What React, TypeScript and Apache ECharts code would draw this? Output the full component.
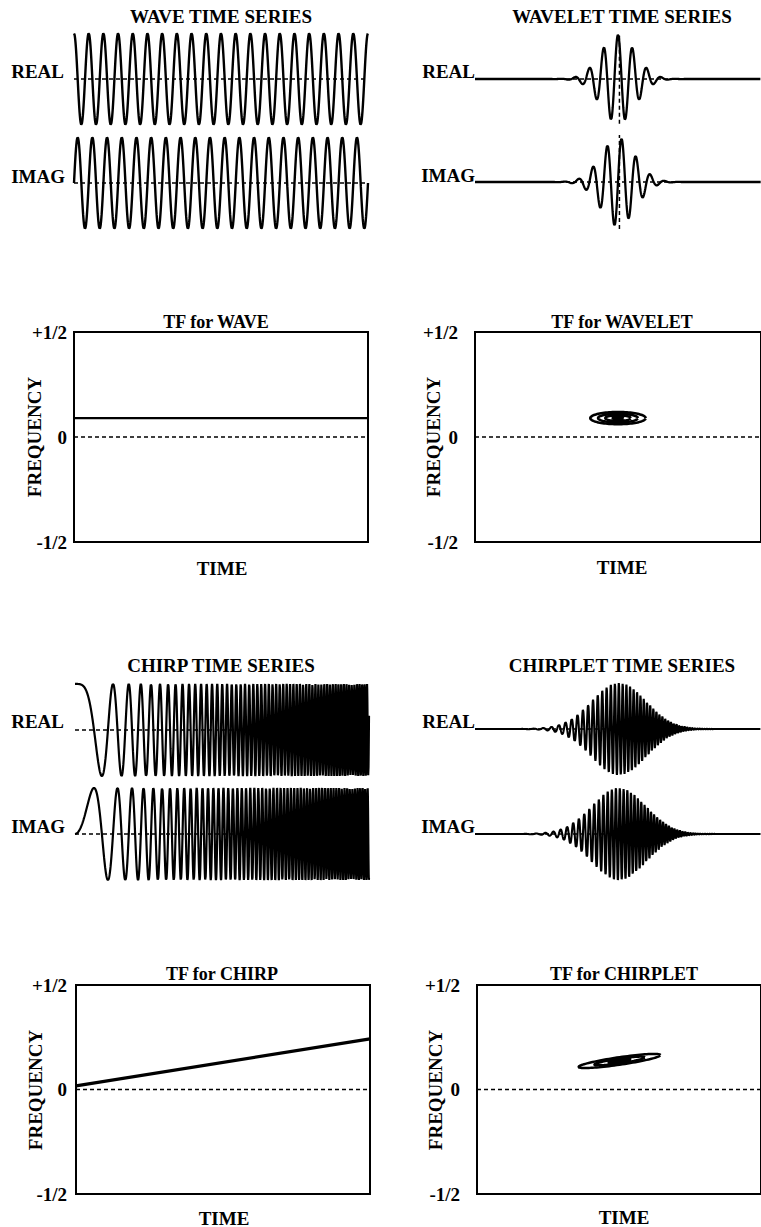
import React, { useEffect, useRef } from "react";
import * as echarts from "echarts";

const FONT = '"Liberation Serif", "Times New Roman", Times, serif';

// ---- signal parameters (time normalised 0..1 across each panel) ----
const waveCycles = [20];
const waveAmp = [0.97];
const waveletCenter = [0.5];
const waveletCycles = [20];
const waveletSigma = [0.06];
const waveletAmp = [0.94];
const waveletMarkerU = [0.505];
const chirpQuadCycles = [59.8];
const chirpAmp = [0.98];
const chirpletCenter = [0.503];
const chirpletSigma = [0.095];
const chirpletFreq = [73.5];
const chirpletRate = [155.6];
const chirpletAmp = [0.98];

// ---- time-frequency plane values ----
const tfWaveFreq = [0.09];
const tfChirpFreqs = [0.017, 0.242];
const tfWaveletEllipse = [0.5, 0.09, 0.097, 0.029]; // cu, cf, half width, half height
const tfWaveletRings = [1, 0.72, 0.46, 0.2];
const tfChirpletEllipse = [0.502, 0.1365, 0.1446, 0.0285, 0.018]; // cu, cf, major du, major df, minor df
const tfChirpletRings = [1, 0.62, 0.28];
const tfTicks = [-0.5, 0, 0.5];
const tfTickLabels = ["-1/2", "0", "+1/2"];

const N = 1800;
function sample(fn: (u: number) => number) {
  const out: number[][] = [];
  for (let i = 0; i <= N; i++) {
    const u = i / N;
    out.push([u, fn(u)]);
  }
  return out;
}
function ellipse(cu: number, cf: number, au: number, af: number, bf: number, s: number) {
  const out: number[][] = [];
  for (let i = 0; i <= 96; i++) {
    const t = (i / 96) * Math.PI * 2;
    out.push([cu + s * au * Math.cos(t), cf + s * af * Math.cos(t) + s * bf * Math.sin(t)]);
  }
  return out;
}

export default function App() {
  const ref = useRef<HTMLDivElement>(null);
  useEffect(() => {
    document.body.style.margin = "0";
    const chart = echarts.init(ref.current!, null, { renderer: "svg" });

    const TS_H = 94;
    const grids = [
      { left: 74, top: 32, width: 294, height: TS_H, tf: false }, // 0 wave real
      { left: 74, top: 136, width: 294, height: TS_H, tf: false }, // 1 wave imag
      { left: 475, top: 32, width: 294, height: TS_H, tf: false }, // 2 wavelet real
      { left: 475, top: 135, width: 294, height: TS_H, tf: false }, // 3 wavelet imag
      { left: 75, top: 683, width: 294, height: TS_H, tf: false }, // 4 chirp real
      { left: 75, top: 787, width: 294, height: TS_H, tf: false }, // 5 chirp imag
      { left: 475, top: 682, width: 294, height: TS_H, tf: false }, // 6 chirplet real
      { left: 475, top: 787, width: 294, height: TS_H, tf: false }, // 7 chirplet imag
      { left: 74, top: 332, width: 294, height: 210, tf: true, margin: 7 }, // 8 TF wave
      { left: 475, top: 332, width: 294, height: 210, tf: true, margin: 17 }, // 9 TF wavelet
      { left: 76, top: 985, width: 294, height: 209, tf: true, margin: 9 }, // 10 TF chirp
      { left: 477, top: 985, width: 294, height: 209, tf: true, margin: 17 }, // 11 TF chirplet
    ];

    const line = (gi: number, data: number[][], width: number, dashed = false, z = 2) => ({
      type: "line",
      xAxisIndex: gi,
      yAxisIndex: gi,
      data,
      showSymbol: false,
      silent: true,
      z,
      lineStyle: { color: "#000", width, type: dashed ? [4, 3] : "solid" },
    });

    const wc = waveCycles[0], wa = waveAmp[0];
    const env = (u: number, c: number, s: number) => Math.exp(-0.5 * ((u - c) / s) ** 2);
    const chirpletPhase = (u: number) => {
      const d = u - chirpletCenter[0];
      return 2 * Math.PI * (chirpletFreq[0] * d + 0.5 * chirpletRate[0] * d * d);
    };

    const series: any[] = [
      line(0, sample((u) => wa * Math.cos(2 * Math.PI * wc * u)), 2.4),
      line(1, sample((u) => wa * Math.sin(2 * Math.PI * wc * u)), 2.4),
      line(2, sample((u) => waveletAmp[0] * env(u, waveletCenter[0], waveletSigma[0]) * Math.cos(2 * Math.PI * waveletCycles[0] * (u - waveletCenter[0]))), 2.3),
      line(3, sample((u) => waveletAmp[0] * env(u, waveletCenter[0], waveletSigma[0]) * Math.sin(2 * Math.PI * waveletCycles[0] * (u - waveletCenter[0]))), 2.3),
      line(4, sample((u) => chirpAmp[0] * Math.cos(2 * Math.PI * chirpQuadCycles[0] * u * u)), 2.2),
      line(5, sample((u) => chirpAmp[0] * Math.sin(2 * Math.PI * chirpQuadCycles[0] * u * u)), 2.2),
      line(6, sample((u) => chirpletAmp[0] * env(u, chirpletCenter[0], chirpletSigma[0]) * Math.cos(chirpletPhase(u))), 2.1),
      line(7, sample((u) => chirpletAmp[0] * env(u, chirpletCenter[0], chirpletSigma[0]) * Math.sin(chirpletPhase(u))), 2.1),
    ];
    // dashed zero baselines in time series
    for (let gi = 0; gi < 8; gi++) series.push(line(gi, [[0, 0], [1, 0]], 1.6, true, 3));
    // wavelet centre markers
    series.push(line(2, [[waveletMarkerU[0], -0.95], [waveletMarkerU[0], 0.95]], 1.5, true, 3));
    series.push(line(3, [[waveletMarkerU[0], -1], [waveletMarkerU[0], 1]], 1.5, true, 3));

    // TF planes
    for (let gi = 8; gi < 12; gi++) series.push(line(gi, [[0, 0], [1, 0]], 1.6, true, 3));
    series.push(line(8, [[0, tfWaveFreq[0]], [1, tfWaveFreq[0]]], 2.2));
    series.push(line(10, [[0, tfChirpFreqs[0]], [1, tfChirpFreqs[1]]], 3.2));
    tfWaveletRings.forEach((s) => {
      const [cu, cf, au, af] = tfWaveletEllipse;
      series.push(line(9, ellipse(cu, cf, au, 0, af, s), 2.6));
    });
    tfChirpletRings.forEach((s) => {
      const [cu, cf, au, af, bf] = tfChirpletEllipse;
      series.push(line(11, ellipse(cu, cf, au, af, bf, s), 2.5));
    });

    const labelStyle = { color: "#000", fontFamily: FONT, fontSize: 19, fontWeight: "bold" };

    const txt = (text: string, x: number, y: number, align = "center", rot = 0, size = 19) => ({
      type: "text",
      x,
      y,
      rotation: rot,
      silent: true,
      style: {
        text,
        fill: "#000",
        font: `bold ${size}px ${FONT}`,
        fontFamily: FONT,
        fontSize: size,
        fontWeight: "bold",
        textAlign: align,
        textVerticalAlign: "middle",
        align,
        verticalAlign: "middle",
      },
    });
    const R90 = Math.PI / 2;
    const graphic = [
      txt("WAVE TIME SERIES", 221, 16),
      txt("WAVELET TIME SERIES", 622, 16),
      txt("REAL", 64, 71, "right"),
      txt("IMAG", 65, 176, "right"),
      txt("REAL", 475, 71, "right"),
      txt("IMAG", 475, 175, "right"),
      txt("TF for WAVE", 216, 322, "center", 0, 18),
      txt("TF for WAVELET", 622, 322, "center", 0, 18),
      txt("FREQUENCY", 34, 437, "center", R90),
      txt("FREQUENCY", 433, 437, "center", R90),
      txt("TIME", 222, 568),
      txt("TIME", 622, 567),
      txt("CHIRP TIME SERIES", 221, 665),
      txt("CHIRPLET TIME SERIES", 622, 665),
      txt("REAL", 64, 721, "right"),
      txt("IMAG", 65, 826, "right"),
      txt("REAL", 475, 721, "right"),
      txt("IMAG", 475, 826, "right"),
      txt("TF for CHIRP", 222, 974, "center", 0, 18),
      txt("TF for CHIRPLET", 624, 974, "center", 0, 18),
      txt("FREQUENCY", 35, 1090, "center", R90),
      txt("FREQUENCY", 435, 1090, "center", R90),
      txt("TIME", 224, 1218),
      txt("TIME", 624, 1217),
    ];

    chart.setOption({
      animation: false,
      backgroundColor: "#fff",
      grid: grids.map((g) => ({
        left: g.left,
        top: g.top,
        width: g.width,
        height: g.height,
        show: g.tf,
        borderColor: "#000",
        borderWidth: 2,
        backgroundColor: "transparent",
      })),
      xAxis: grids.map((g, i) => ({ type: "value", gridIndex: i, min: 0, max: 1, show: false })),
      yAxis: grids.map((g: any, i) =>
        g.tf
          ? {
              type: "value",
              gridIndex: i,
              min: -0.5,
              max: 0.5,
              interval: 0.5,
              axisLine: { show: false },
              axisTick: { show: false },
              splitLine: { show: false },
              axisLabel: {
                ...labelStyle,
                margin: g.margin,
                formatter: (v: number) => tfTickLabels[tfTicks.indexOf(v)] ?? "",
              },
            }
          : { type: "value", gridIndex: i, min: -1, max: 1, show: false }
      ),
      series,
      graphic,
    });
    return () => chart.dispose();
  }, []);
  return <div ref={ref} style={{ position: "absolute", left: 0, top: 0, width: 761, height: 1227 }} />;
}
